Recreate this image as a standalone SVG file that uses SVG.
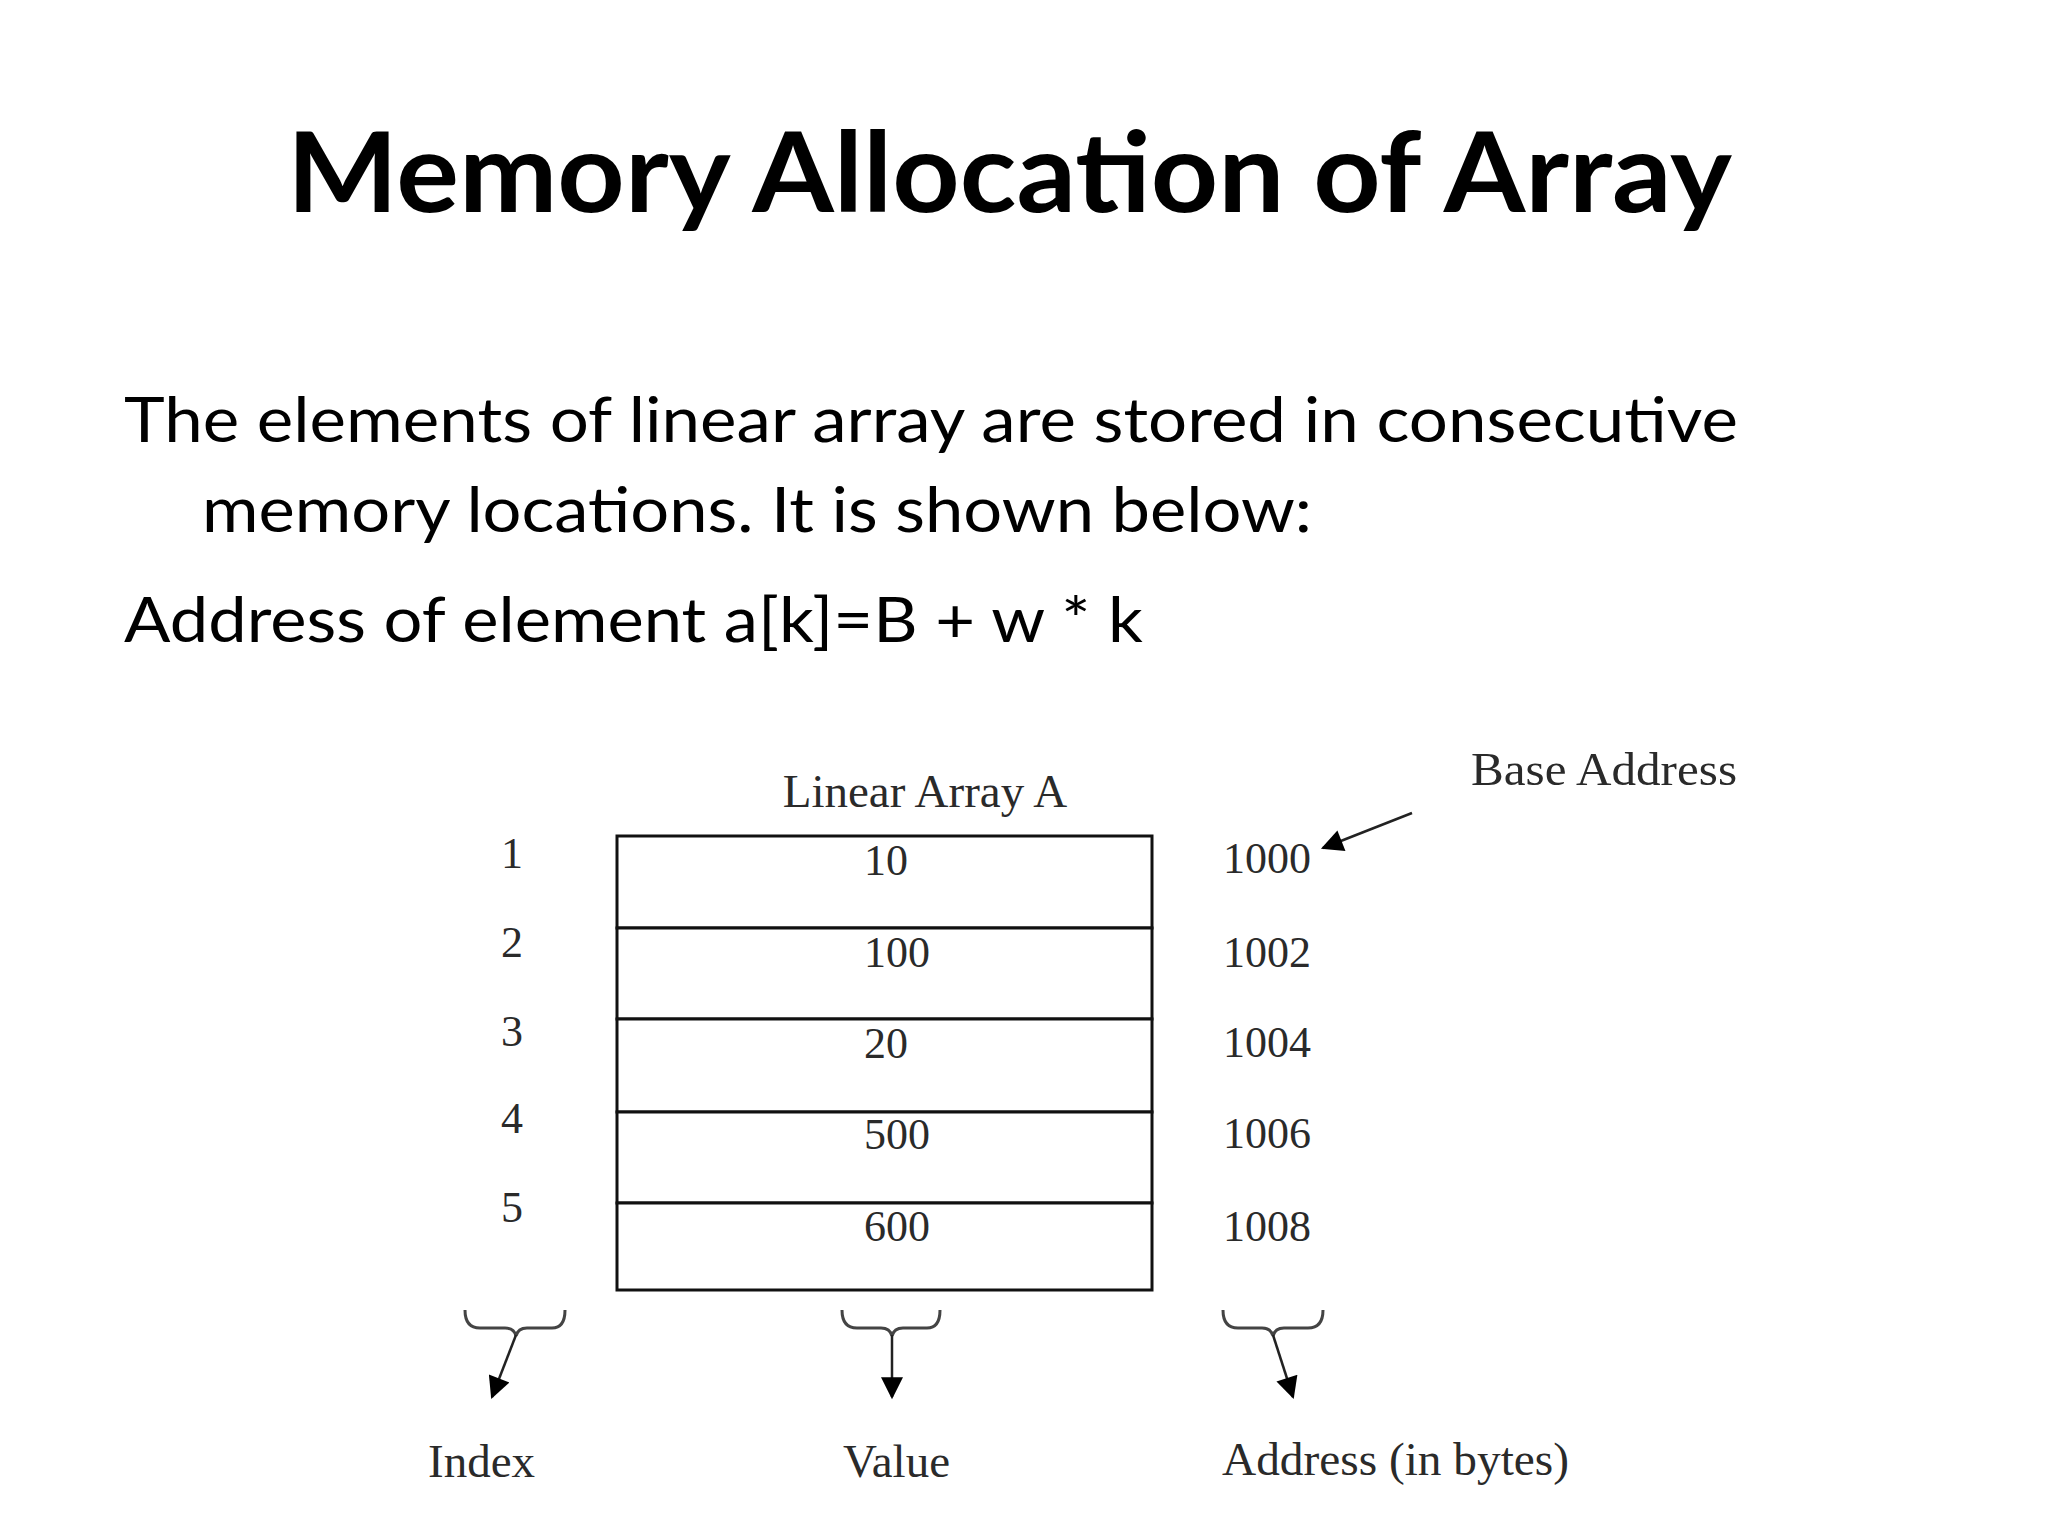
<svg xmlns="http://www.w3.org/2000/svg" width="2048" height="1536" viewBox="0 0 2048 1536">
<style>
.title{font-family:Lato,"Open Sans",sans-serif;font-weight:bold;font-size:112px;fill:#000}
.body{font-family:Lato,"Open Sans",sans-serif;font-size:62px;fill:#000}
.lbl{font-family:"Liberation Serif","Times New Roman",serif;font-size:47px;fill:#2a2a2a}
.num{font-family:"Liberation Serif","Times New Roman",serif;font-size:44px;fill:#2a2a2a}
.cell{fill:#fff;stroke:#111;stroke-width:3}
.brace{fill:none;stroke:#444;stroke-width:3}
.arr{fill:none;stroke:#222;stroke-width:2.5}
</style>
<defs>
<marker id="ah2" viewBox="0 0 10 10" refX="9" refY="5" markerWidth="26" markerHeight="22" markerUnits="userSpaceOnUse" orient="auto">
<path d="M0,0 L10,5 L0,10 Z" fill="#000"/>
</marker>
</defs>
<rect width="2048" height="1536" fill="#fff"/>
<text class="title" x="287" y="212" textLength="1445" lengthAdjust="spacingAndGlyphs">Memory Allocation of Array</text>
<text class="body" x="124" y="442" textLength="1614" lengthAdjust="spacingAndGlyphs">The elements of linear array are stored in consecutive</text>
<text class="body" x="202" y="532" textLength="1110" lengthAdjust="spacingAndGlyphs">memory locations. It is shown below:</text>
<text class="body" x="124" y="642" textLength="1019" lengthAdjust="spacingAndGlyphs">Address of element a[k]=B + w * k</text>

<g id="array">
<text class="lbl" x="925" y="807" text-anchor="middle">Linear Array A</text>
<g id="cell1"><rect class="cell" x="617" y="836" width="535" height="92"/><text class="num" x="864" y="875">10</text></g>
<g id="cell2"><rect class="cell" x="617" y="928" width="535" height="91"/><text class="num" x="864" y="967">100</text></g>
<g id="cell3"><rect class="cell" x="617" y="1019" width="535" height="93"/><text class="num" x="864" y="1058">20</text></g>
<g id="cell4"><rect class="cell" x="617" y="1112" width="535" height="91"/><text class="num" x="864" y="1149">500</text></g>
<g id="cell5"><rect class="cell" x="617" y="1203" width="535" height="87"/><text class="num" x="864" y="1241">600</text></g>
</g>

<g id="indices">
<text class="num" x="512" y="868" text-anchor="middle">1</text>
<text class="num" x="512" y="957" text-anchor="middle">2</text>
<text class="num" x="512" y="1046" text-anchor="middle">3</text>
<text class="num" x="512" y="1133" text-anchor="middle">4</text>
<text class="num" x="512" y="1222" text-anchor="middle">5</text>
</g>

<g id="addresses">
<text class="num" x="1223" y="873">1000</text>
<text class="num" x="1223" y="967">1002</text>
<text class="num" x="1223" y="1057">1004</text>
<text class="num" x="1223" y="1148">1006</text>
<text class="num" x="1223" y="1241">1008</text>
</g>

<g id="base-address"><text class="lbl" x="1471" y="785" textLength="266" lengthAdjust="spacingAndGlyphs">Base Address</text></g>
<g id="index-label"><text class="lbl" x="428" y="1477">Index</text></g>
<g id="value-label"><text class="lbl" x="843" y="1477">Value</text></g>
<g id="address-label"><text class="lbl" x="1222" y="1475" textLength="347" lengthAdjust="spacingAndGlyphs">Address (in bytes)</text></g>

<g id="connectors">
<line class="arr" x1="1412" y1="813" x2="1323" y2="848" marker-end="url(#ah2)"/>
<path class="brace" d="M465,1310 Q465,1328 480,1328 L505,1328 Q514,1328 516,1336 Q518,1328 527,1328 L552,1328 Q565,1328 565,1310"/>
<line class="arr" x1="516" y1="1335" x2="492" y2="1397" marker-end="url(#ah2)"/>
<path class="brace" d="M842,1310 Q842,1328 857,1328 L881,1328 Q890,1328 892,1336 Q894,1328 903,1328 L927,1328 Q940,1328 940,1310"/>
<line class="arr" x1="892" y1="1335" x2="892" y2="1397" marker-end="url(#ah2)"/>
<path class="brace" d="M1223,1310 Q1223,1328 1238,1328 L1262,1328 Q1271,1328 1273,1336 Q1275,1328 1284,1328 L1308,1328 Q1323,1328 1323,1310"/>
<line class="arr" x1="1273" y1="1335" x2="1293" y2="1397" marker-end="url(#ah2)"/>
</g>
</svg>
